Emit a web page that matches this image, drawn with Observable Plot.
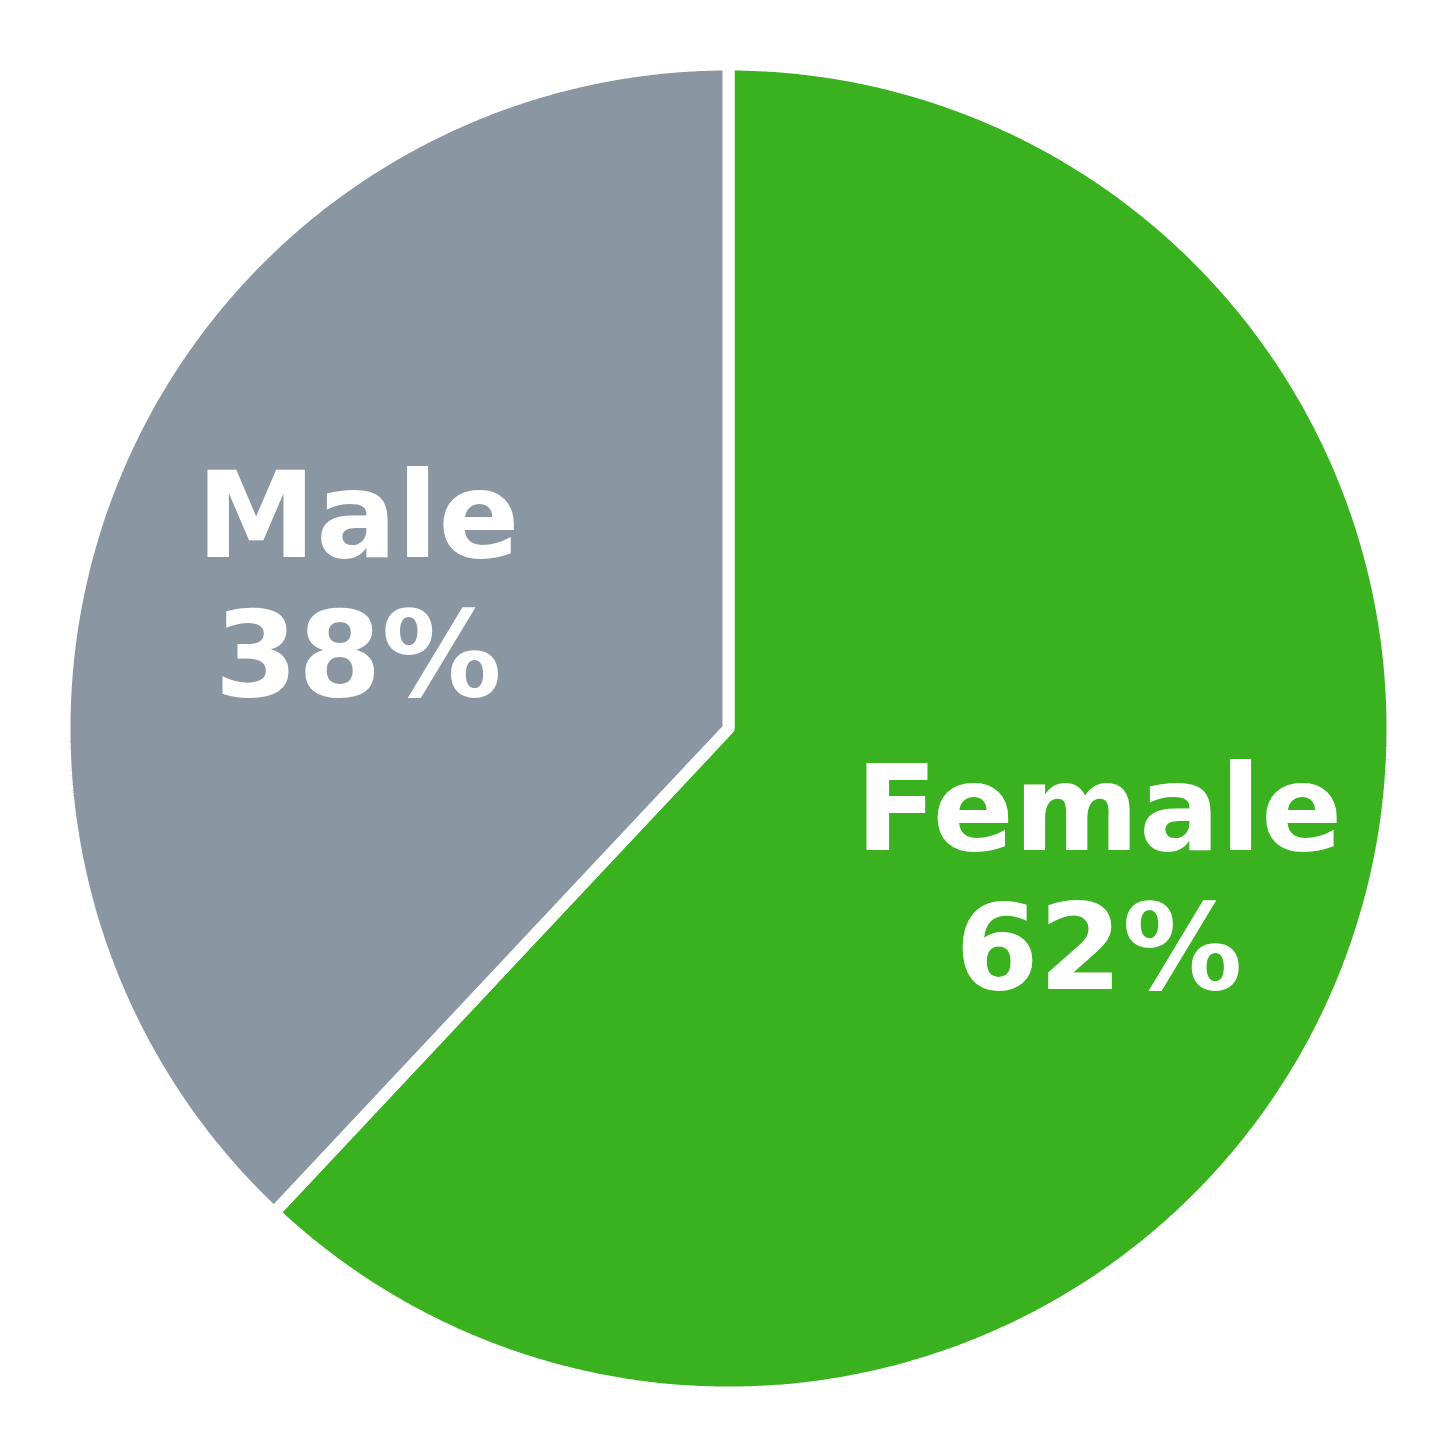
<!DOCTYPE html>
<html>
<head>
<meta charset="utf-8">
<script src="https://cdn.jsdelivr.net/npm/d3@7"></script>
<script src="https://cdn.jsdelivr.net/npm/@observablehq/plot@0.6"></script>
<style>
  html, body { margin: 0; padding: 0; background: #ffffff; }
  #chart { width: 1456px; height: 1456px; }
</style>
</head>
<body>
<div id="chart"></div>
<script>
// Data
const categories = ["Female", "Male"];
const values = [62, 38];
const labels = ["Female\n62%", "Male\n38%"];
const colors = ["#3ab220", "#8a96a2"];

// Build slice geometry (unit radius; angles clockwise from 12 o'clock)
const pie = d3.pie().sort(null).value(d => d)(values);
const slicePoints = [];
const labelRows = [];
pie.forEach((p, i) => {
  const n = Math.max(2, Math.ceil((p.endAngle - p.startAngle) / (Math.PI / 720)));
  slicePoints.push({category: categories[i], x: 0, y: 0});
  for (let k = 0; k <= n; k++) {
    const a = p.startAngle + (p.endAngle - p.startAngle) * k / n;
    slicePoints.push({category: categories[i], x: Math.sin(a), y: Math.cos(a)});
  }
  slicePoints.push({category: categories[i], x: 0, y: 0});
  const mid = (p.startAngle + p.endAngle) / 2;
  labelRows.push({category: categories[i], label: labels[i], x: 0.6 * Math.sin(mid), y: 0.6 * Math.cos(mid)});
});

const size = 1456;
const radiusPx = 664;
const half = size / 2 / radiusPx;

const chart = Plot.plot({
  width: size,
  height: size,
  margin: 0,
  x: {domain: [-half, half], axis: null},
  y: {domain: [-half, half], axis: null},
  color: {domain: categories, range: colors},
  style: {background: "white"},
  marks: [
    Plot.line(slicePoints, {
      x: "x", y: "y", z: "category",
      fill: "category",
      stroke: "white",
      strokeWidth: 12,
      strokeLinejoin: "miter",
      curve: "linear"
    }),
    Plot.text(labelRows, {
      x: "x", y: "y", text: "label",
      fill: "white",
      fontSize: 120,
      fontWeight: "bold",
      fontFamily: "DejaVu Sans",
      lineHeight: 1.16,
      textAnchor: "middle"
    })
  ]
});
document.getElementById("chart").appendChild(chart);
</script>
</body>
</html>
